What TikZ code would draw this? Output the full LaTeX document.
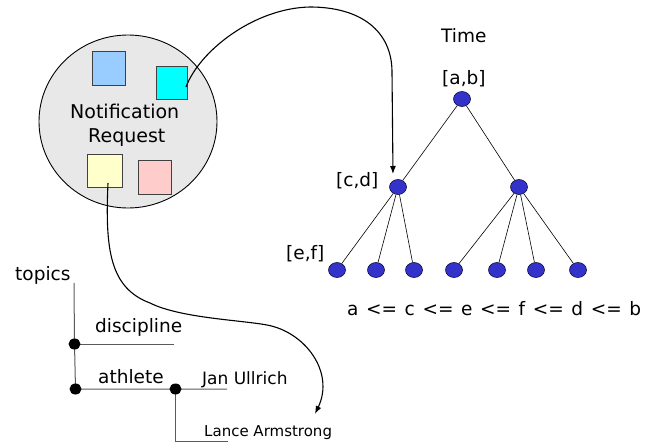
\documentclass[tikz,border=0pt]{standalone}
\usepackage{fontspec}
\setmainfont{DejaVu Sans}
\usetikzlibrary{shapes.geometric,arrows.meta}

\definecolor{reqgray}{RGB}{232,232,232}
\definecolor{cardblue}{RGB}{153,204,255}
\definecolor{cardcyan}{RGB}{0,255,255}
\definecolor{cardyellow}{RGB}{255,255,204}
\definecolor{cardpink}{RGB}{255,204,204}
\definecolor{vertexblue}{RGB}{51,51,204}
\definecolor{branchgray}{RGB}{90,90,90}

\tikzset{
  lbl/.style={inner sep=0, anchor=base west, font=\fontsize{18.5}{22}\selectfont},
  smalllbl/.style={lbl, font=\fontsize{17}{20}\selectfont},
  tinylbl/.style={lbl, font=\fontsize{15}{18}\selectfont},
  card/.style={draw=black!75, line width=0.7pt, inner sep=0},
  vertex/.style={ellipse, draw=black!70!vertexblue, line width=0.6pt, fill=vertexblue,
                 minimum width=17pt, minimum height=15pt, inner sep=0},
  treeedge/.style={line width=0.6pt, black},
  branch/.style={line width=1pt, branchgray},
  branchdot/.style={ellipse, fill=black, minimum width=12pt, minimum height=11pt, inner sep=0},
  pointer/.style={line width=1.1pt, black, -{Latex[length=8pt,width=6pt]}}
}

\begin{document}
\begin{tikzpicture}[x=1pt,y=-1pt]
\useasboundingbox (0,0) rectangle (659,444);

% notification request: grey disc with four coloured cards
\node[ellipse, draw=black, line width=0.9pt, fill=reqgray,
      minimum width=178pt, minimum height=173pt, inner sep=0] (req) at (128,121.5) {};
\node[card, fill=cardblue,   minimum width=33pt, minimum height=34pt] (cblue)   at (108.5,68) {};
\node[card, fill=cardcyan,   minimum width=31pt, minimum height=33pt] (ccyan)   at (171.5,82.5) {};
\node[card, fill=cardyellow, minimum width=35pt, minimum height=33pt] (cyellow) at (104.5,170.5) {};
\node[card, fill=cardpink,   minimum width=33pt, minimum height=34pt] (cpink)   at (154.5,177) {};
\node[lbl, font=\fontsize{19}{24}\selectfont] (tnotif) at (70,118.3) {Notification};
\node[lbl, font=\fontsize{19}{24}\selectfont] (treq)   at (88,142.3) {Request};

% time interval tree
\node[lbl] (ttime) at (441,43) {Time};
\node[vertex] (root) at (462,99) {};
\node[vertex] (cd)   at (398,187) {};
\node[vertex] (rr)   at (519,187) {};
\foreach \x [count=\i] in {337,376,414,454,497,536,578}
  \node[vertex] (leaf\i) at (\x,270) {};
\node[lbl] (lab) at (442,84.5) {[a,b]};
\node[lbl] (lcd) at (336,186.5) {[c,d]};
\node[lbl] (lef) at (286,259.5) {[e,f]};
\node[lbl] (order) at (347,315)
  {\spaceskip=7.6pt\relax a <= c <= e <= f <= d <= b};

\draw[treeedge] (root) -- (cd);
\draw[treeedge] (root) -- (rr);
\foreach \i in {1,2,3} \draw[treeedge] (cd) -- (leaf\i);
\foreach \i in {4,5,6,7} \draw[treeedge] (rr) -- (leaf\i);

% topic hierarchy
\coordinate (ttop)     at (74,283);
\coordinate (pdisc)    at (74.5,344);
\coordinate (path)     at (75.5,389);
\coordinate (pjan)     at (175.5,389);
\coordinate (discend)  at (174,344);
\coordinate (athend)   at (227,389);
\coordinate (lacorner) at (175.5,441);
\coordinate (laend)    at (228,441);

\draw[branch] (ttop) -- (pdisc) -- (path) -- (pjan) -- (athend);
\draw[branch] (pdisc) -- (discend);
\draw[branch] (pjan) -- (lacorner) -- (laend);
\node[branchdot] (ddisc) at (pdisc) {};
\node[branchdot] (dath)  at (path) {};
\node[branchdot] (djan)  at (pjan) {};

\node[lbl] (ltopics) at (15,280) {topics};
\node[lbl] (ldisc)   at (95,332.7) {discipline};
\node[lbl] (lath)    at (98,383.3) {athlete};
\node[smalllbl] (ljan) at (202,384) {Jan Ullrich};
\node[tinylbl] (llance) at (204,436) {Lance Armstrong};

% pointers from the request cards
\coordinate (cyanpin)   at (186,87);
\coordinate (cdtip)     at (393,174);
\coordinate (yellowpin) at (108,183);
\coordinate (lancetip)  at (315,414);

\draw[pointer] (cyanpin) .. controls (200,50) and (255,8) .. (310,7)
               .. controls (362,7) and (392,32) .. (392,72) -- (cdtip);
\draw[pointer] (yellowpin) .. controls (105,250) and (110,288) .. (150,303)
               .. controls (180,318) and (240,320) .. (267,325)
               .. controls (305,332) and (335,372) .. (lancetip);
\end{tikzpicture}
\end{document}
